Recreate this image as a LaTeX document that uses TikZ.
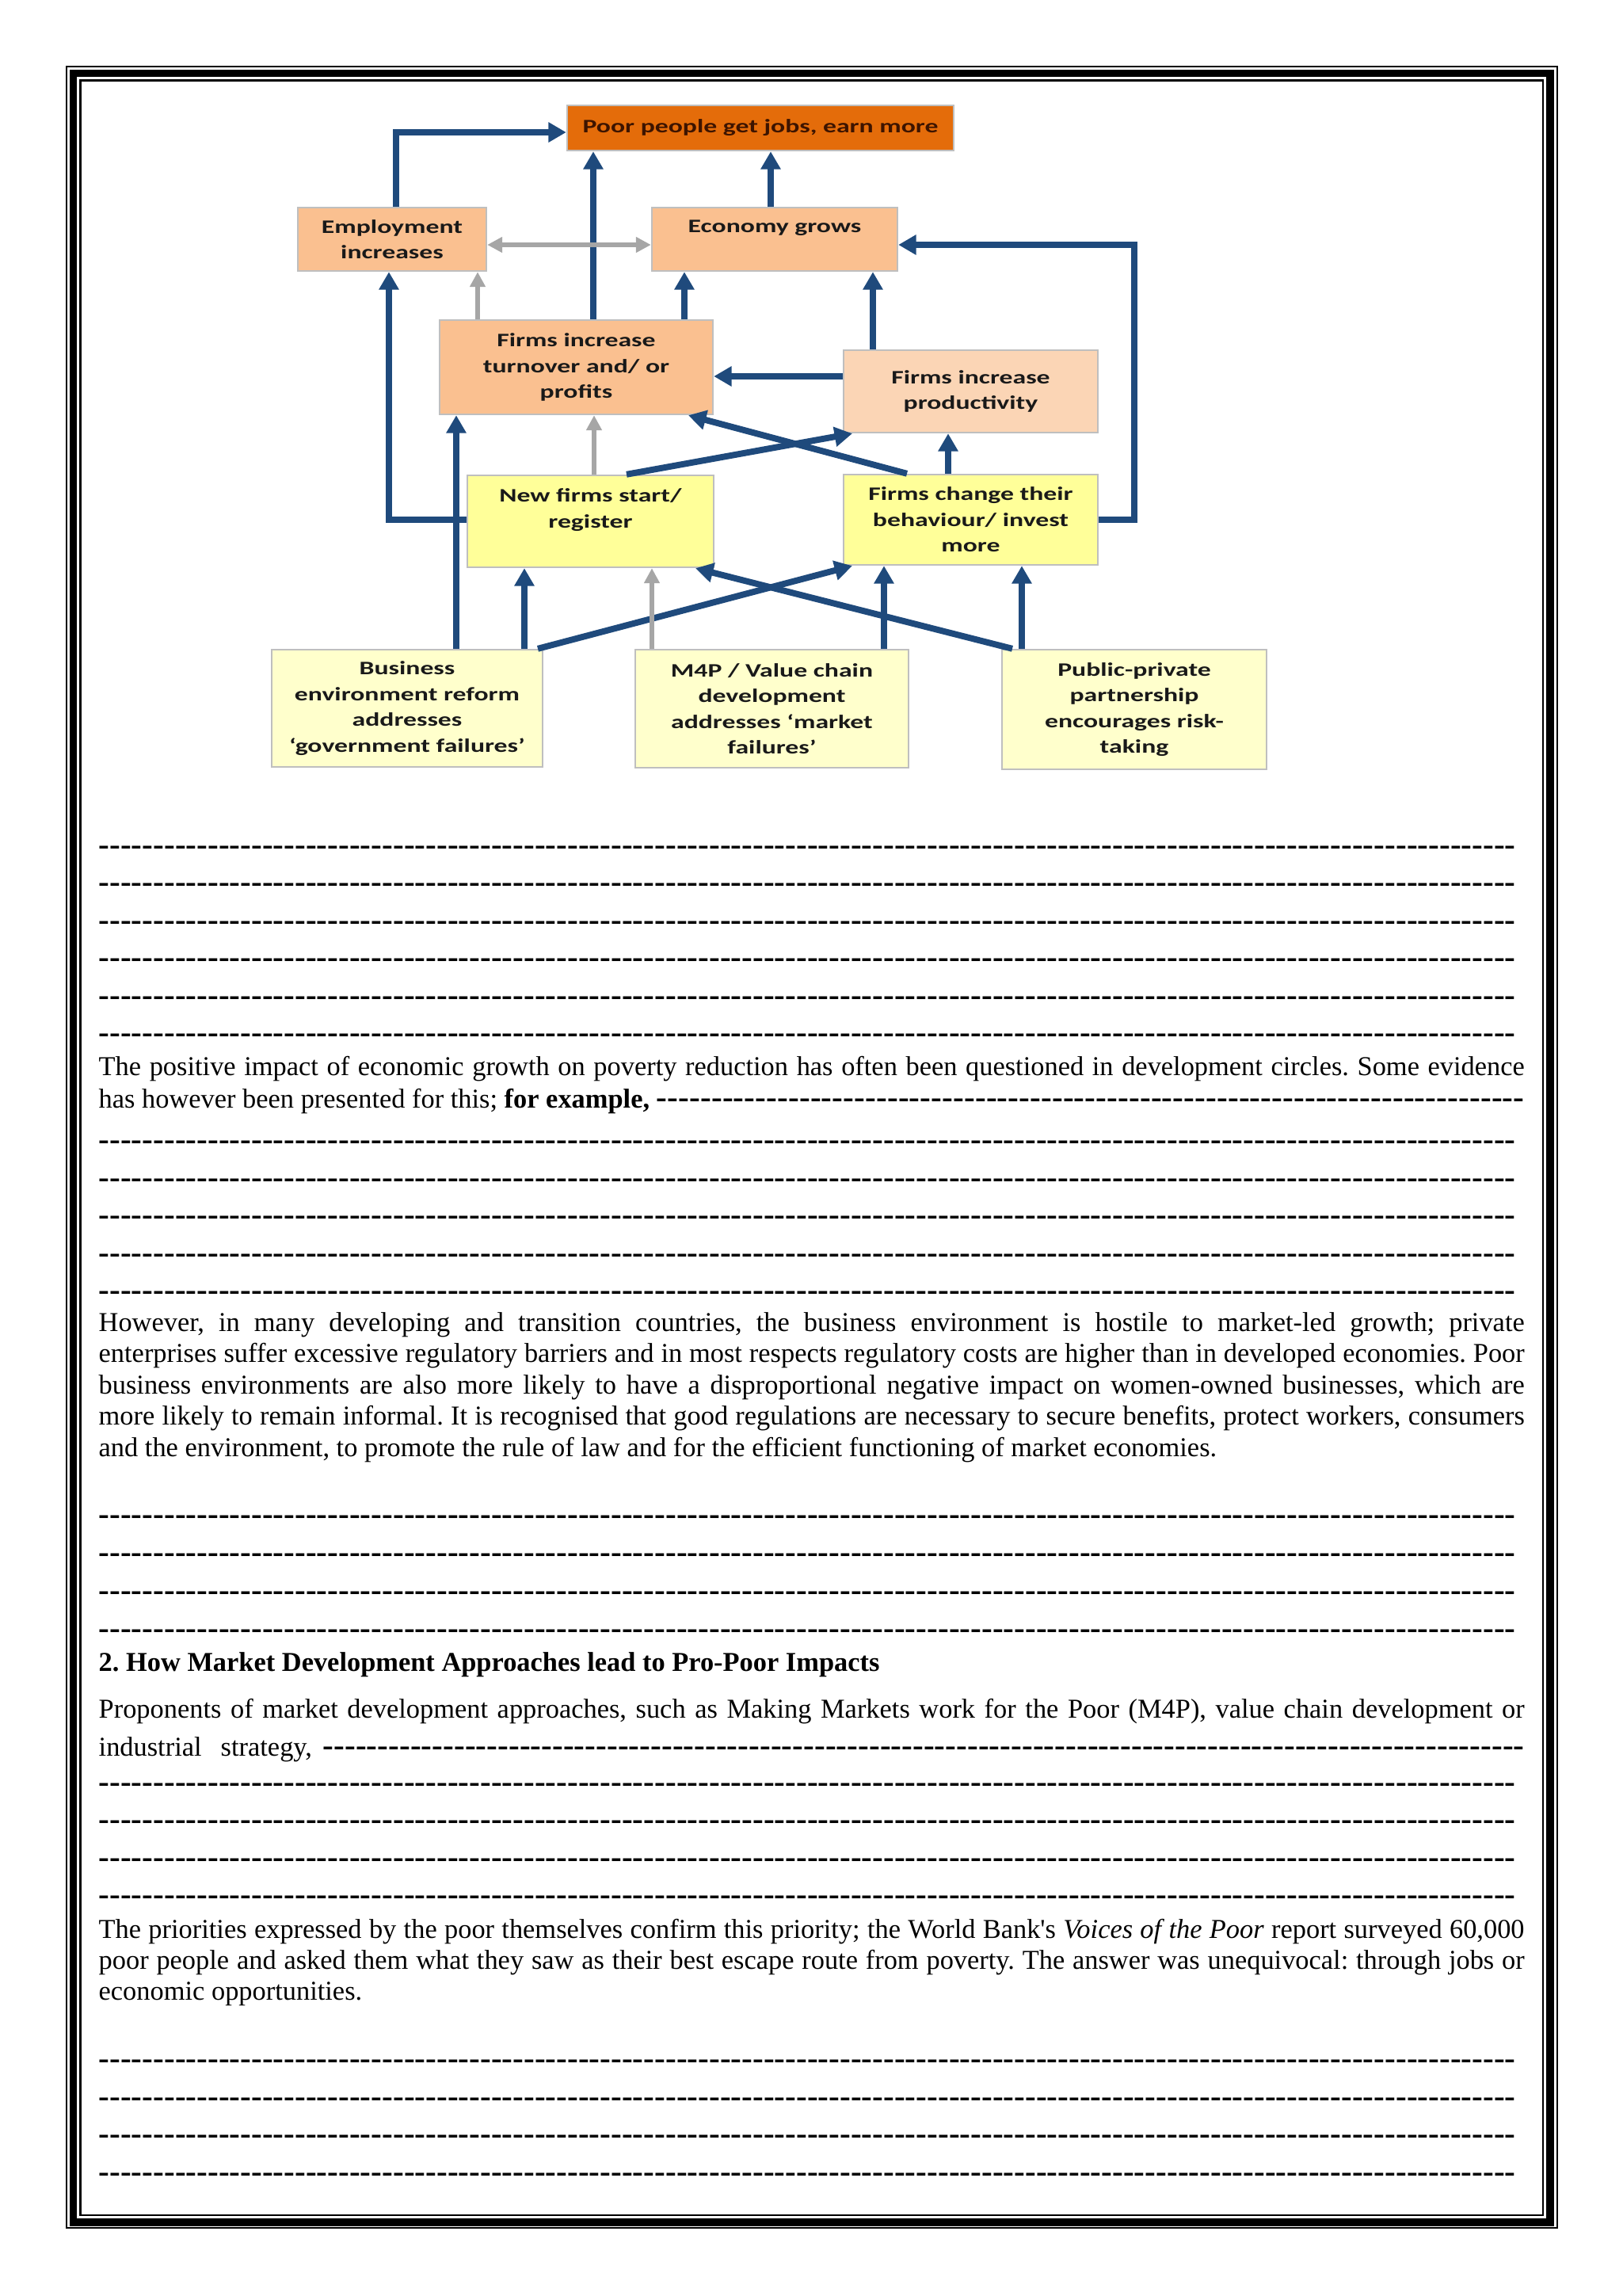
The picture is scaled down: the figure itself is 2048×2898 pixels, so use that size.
\documentclass[tikz,border=0pt]{standalone}
\usepackage{fontspec}
\setmainfont{Liberation Serif}
\newfontfamily\boxfont[FakeStretch=1.4]{Carlito}
\usetikzlibrary{arrows.meta}
\definecolor{arrowblue}{HTML}{1F4A7C}
\definecolor{arrowgray}{HTML}{A6A6A6}
\definecolor{poororange}{HTML}{E46C0A}
\definecolor{poortext}{HTML}{3D1400}
\definecolor{tanfill}{HTML}{FAC090}
\definecolor{paletan}{HTML}{FBD5B5}
\definecolor{midyellow}{HTML}{FFFF99}
\definecolor{paleyellow}{HTML}{FFFFCC}
\definecolor{boxline}{HTML}{BFBFBF}
\newcommand{\unitpx}{0.29066pt}
\newcommand{\dashfill}{{\fontsize{12}{13.8}\selectfont\bfseries\xleaders\hbox{-}\hfill}}
\newcommand{\dashrow}{\hbox to 520pt{\dashfill}}
\newcommand{\jline}[1]{\makebox[523.2pt][s]{#1}}
\frenchspacing
\begin{document}
\begin{tikzpicture}[x=\unitpx,y=-\unitpx,
  boxsize/.style 2 args={minimum width=#1*\unitpx,minimum height=#2*\unitpx}]
\tikzstyle{box}=[draw=boxline,line width=0.7pt,align=center,inner sep=0pt,
  text=black!90,font=\boxfont\bfseries\fontsize{7}{9.45}\selectfont]
\tikzstyle{bluearrow}=[draw=arrowblue,line width=2.3pt,
  -{Triangle[width=7pt,length=6.5pt]}]
\tikzstyle{grayarrow}=[draw=arrowgray,line width=1.7pt,
  -{Triangle[width=5.5pt,length=5.5pt]}]
\tikzstyle{para}=[anchor=base west,inner sep=0pt,font=\fontsize{10}{11.5}\selectfont]
\useasboundingbox (0,0) rectangle (2048,2898);
% page border
\draw[line width=0.55pt] (84,84) rectangle (1966,2812);
\draw[line width=2.9pt] (92.5,92.5) rectangle (1956.5,2804.5);
\draw[line width=0.75pt] (101.5,101.5) rectangle (1948,2796);
% boxes
\node[box,boxsize={488}{57},fill=poororange,text=poortext] (poor) at (960,161.5)
  {Poor people get jobs, earn more};
\node[box,boxsize={238}{80},fill=tanfill] (employ) at (495,302) {Employment\\increases};
\node[box,boxsize={310}{80},fill=tanfill] (econ) at (978,302) {Economy grows\\\mbox{}};
\node[box,boxsize={345}{119},fill=tanfill] (turnover) at (727.5,463.5)
  {Firms increase\\turnover and/ or\\profits};
\node[box,boxsize={321}{104},fill=paletan] (product) at (1225.5,494)
  {Firms increase\\productivity};
\node[box,boxsize={311}{116},fill=midyellow] (newfirms) at (745.5,658)
  {New firms start/\\register\\\mbox{}};
\node[box,boxsize={321}{114},fill=midyellow] (change) at (1225.5,656)
  {Firms change their\\behaviour/ invest\\more};
\node[box,boxsize={342}{148},fill=paleyellow] (business) at (514,894)
  {Business\\environment reform\\addresses\\‘government failures’};
\node[box,boxsize={345}{149},fill=paleyellow] (mfourp) at (974.5,894.5)
  {M4P / Value chain\\development\\addresses ‘market\\failures’};
\node[box,boxsize={334}{151},fill=paleyellow] (ppp) at (1432,895.5)
  {Public-private\\partnership\\encourages risk-\\taking};
% connectors to the top
\draw[bluearrow] (employ.north -| 500,0) |- (poor.west |- 0,167);
\draw[bluearrow] (turnover.north -| 749,0) -- (poor.south -| 749,0);
\draw[bluearrow] (econ.north -| 973,0) -- (poor.south -| 973,0);
\draw[grayarrow,{Triangle[width=5.5pt,length=5.5pt]}-{Triangle[width=5.5pt,length=5.5pt]}]
  (employ.east |- 0,309) -- (econ.west |- 0,309);
\draw[grayarrow] (turnover.north -| 603,0) -- (employ.south -| 603,0);
\draw[bluearrow] (turnover.north -| 864,0) -- (econ.south -| 864,0);
\draw[bluearrow] (product.north -| 1102,0) -- (econ.south -| 1102,0);
\draw[bluearrow] (product.west |- 0,475) -- (turnover.east |- 0,475);
\draw[bluearrow] (newfirms.west |- 0,656) -| (employ.south -| 491,0);
\draw[bluearrow] (change.east |- 0,656) -| (1432,309) -- (econ.east |- 0,309);
% middle row
\draw[bluearrow] (business.north -| 576,0) -- (turnover.south -| 576,0);
\draw[grayarrow] (newfirms.north -| 750,0) -- (turnover.south -| 750,0);
\draw[bluearrow] (newfirms.north -| 791,0) -- (product.south -| 1076,0);
\draw[bluearrow] (change.north -| 1145,0) -- (turnover.south -| 869,0);
\draw[bluearrow] (change.north -| 1197,0) -- (product.south -| 1197,0);
% bottom row
\draw[bluearrow] (business.north -| 662,0) -- (newfirms.south -| 662,0);
\draw[bluearrow] (business.north -| 679,0) -- (change.south -| 1076,0);
\draw[grayarrow] (mfourp.north -| 823,0) -- (newfirms.south -| 823,0);
\draw[bluearrow] (mfourp.north -| 1116,0) -- (change.south -| 1116,0);
\draw[bluearrow] (ppp.north -| 1290,0) -- (change.south -| 1290,0);
\draw[bluearrow] (ppp.north -| 1278,0) -- (newfirms.south -| 878,0);
% text of the page
\foreach \y [count=\i] in {1079,1126.5,1174,1221.5,1269,1316.5}
  \node[para] (dasha\i) at (124,\y) {\dashrow};
\node[para] (posa) at (124,1357) {\jline{The positive impact of economic growth on poverty reduction has often been questioned in development circles. Some evidence}};
\node[para] (posb) at (124,1398) {\hbox to 523.2pt{has however been presented for this; \textbf{for example,} \dashfill}};
\foreach \y [count=\i] in {1451.5,1499,1546.5,1594,1641.5}
  \node[para] (dashb\i) at (124,\y) {\dashrow};
\node[para] (howa) at (124,1680) {\jline{However, in many developing and transition countries, the business environment is hostile to market-led growth; private}};
\node[para] (howb) at (124,1719.5) {\jline{enterprises suffer excessive regulatory barriers and in most respects regulatory costs are higher than in developed economies. Poor}};
\node[para] (howc) at (124,1759) {\jline{business environments are also more likely to have a disproportional negative impact on women-owned businesses, which are}};
\node[para] (howd) at (124,1798.5) {\jline{more likely to remain informal. It is recognised that good regulations are necessary to secure benefits, protect workers, consumers}};
\node[para] (howe) at (124,1838) {and the environment, to promote the rule of law and for the efficient functioning of market economies.};
\foreach \y [count=\i] in {1924,1972,2020,2068}
  \node[para] (dashc\i) at (124,\y) {\dashrow};
\node[para] (head) at (124,2109) {\textbf{2. How Market Development Approaches lead to Pro-Poor Impacts}};
\node[para] (propa) at (124,2168) {\jline{Proponents of market development approaches, such as Making Markets work for the Poor (M4P), value chain development or}};
\node[para] (propb) at (124,2216) {\hbox to 523.2pt{industrial\hskip 7pt strategy,\hskip 4pt\dashfill}};
\foreach \y [count=\i] in {2262,2309.5,2357,2404.5}
  \node[para] (dashd\i) at (124,\y) {\dashrow};
\node[para] (pria) at (124,2446) {\jline{The priorities expressed by the poor themselves confirm this priority; the World Bank\textquotesingle s \textit{Voices of the Poor} report surveyed 60,000}};
\node[para] (prib) at (124,2485) {\jline{poor people and asked them what they saw as their best escape route from poverty. The answer was unequivocal: through jobs or}};
\node[para] (pric) at (124,2524) {economic opportunities.};
\foreach \y [count=\i] in {2611.5,2659,2706.5,2754}
  \node[para] (dashe\i) at (124,\y) {\dashrow};
\end{tikzpicture}
\end{document}
